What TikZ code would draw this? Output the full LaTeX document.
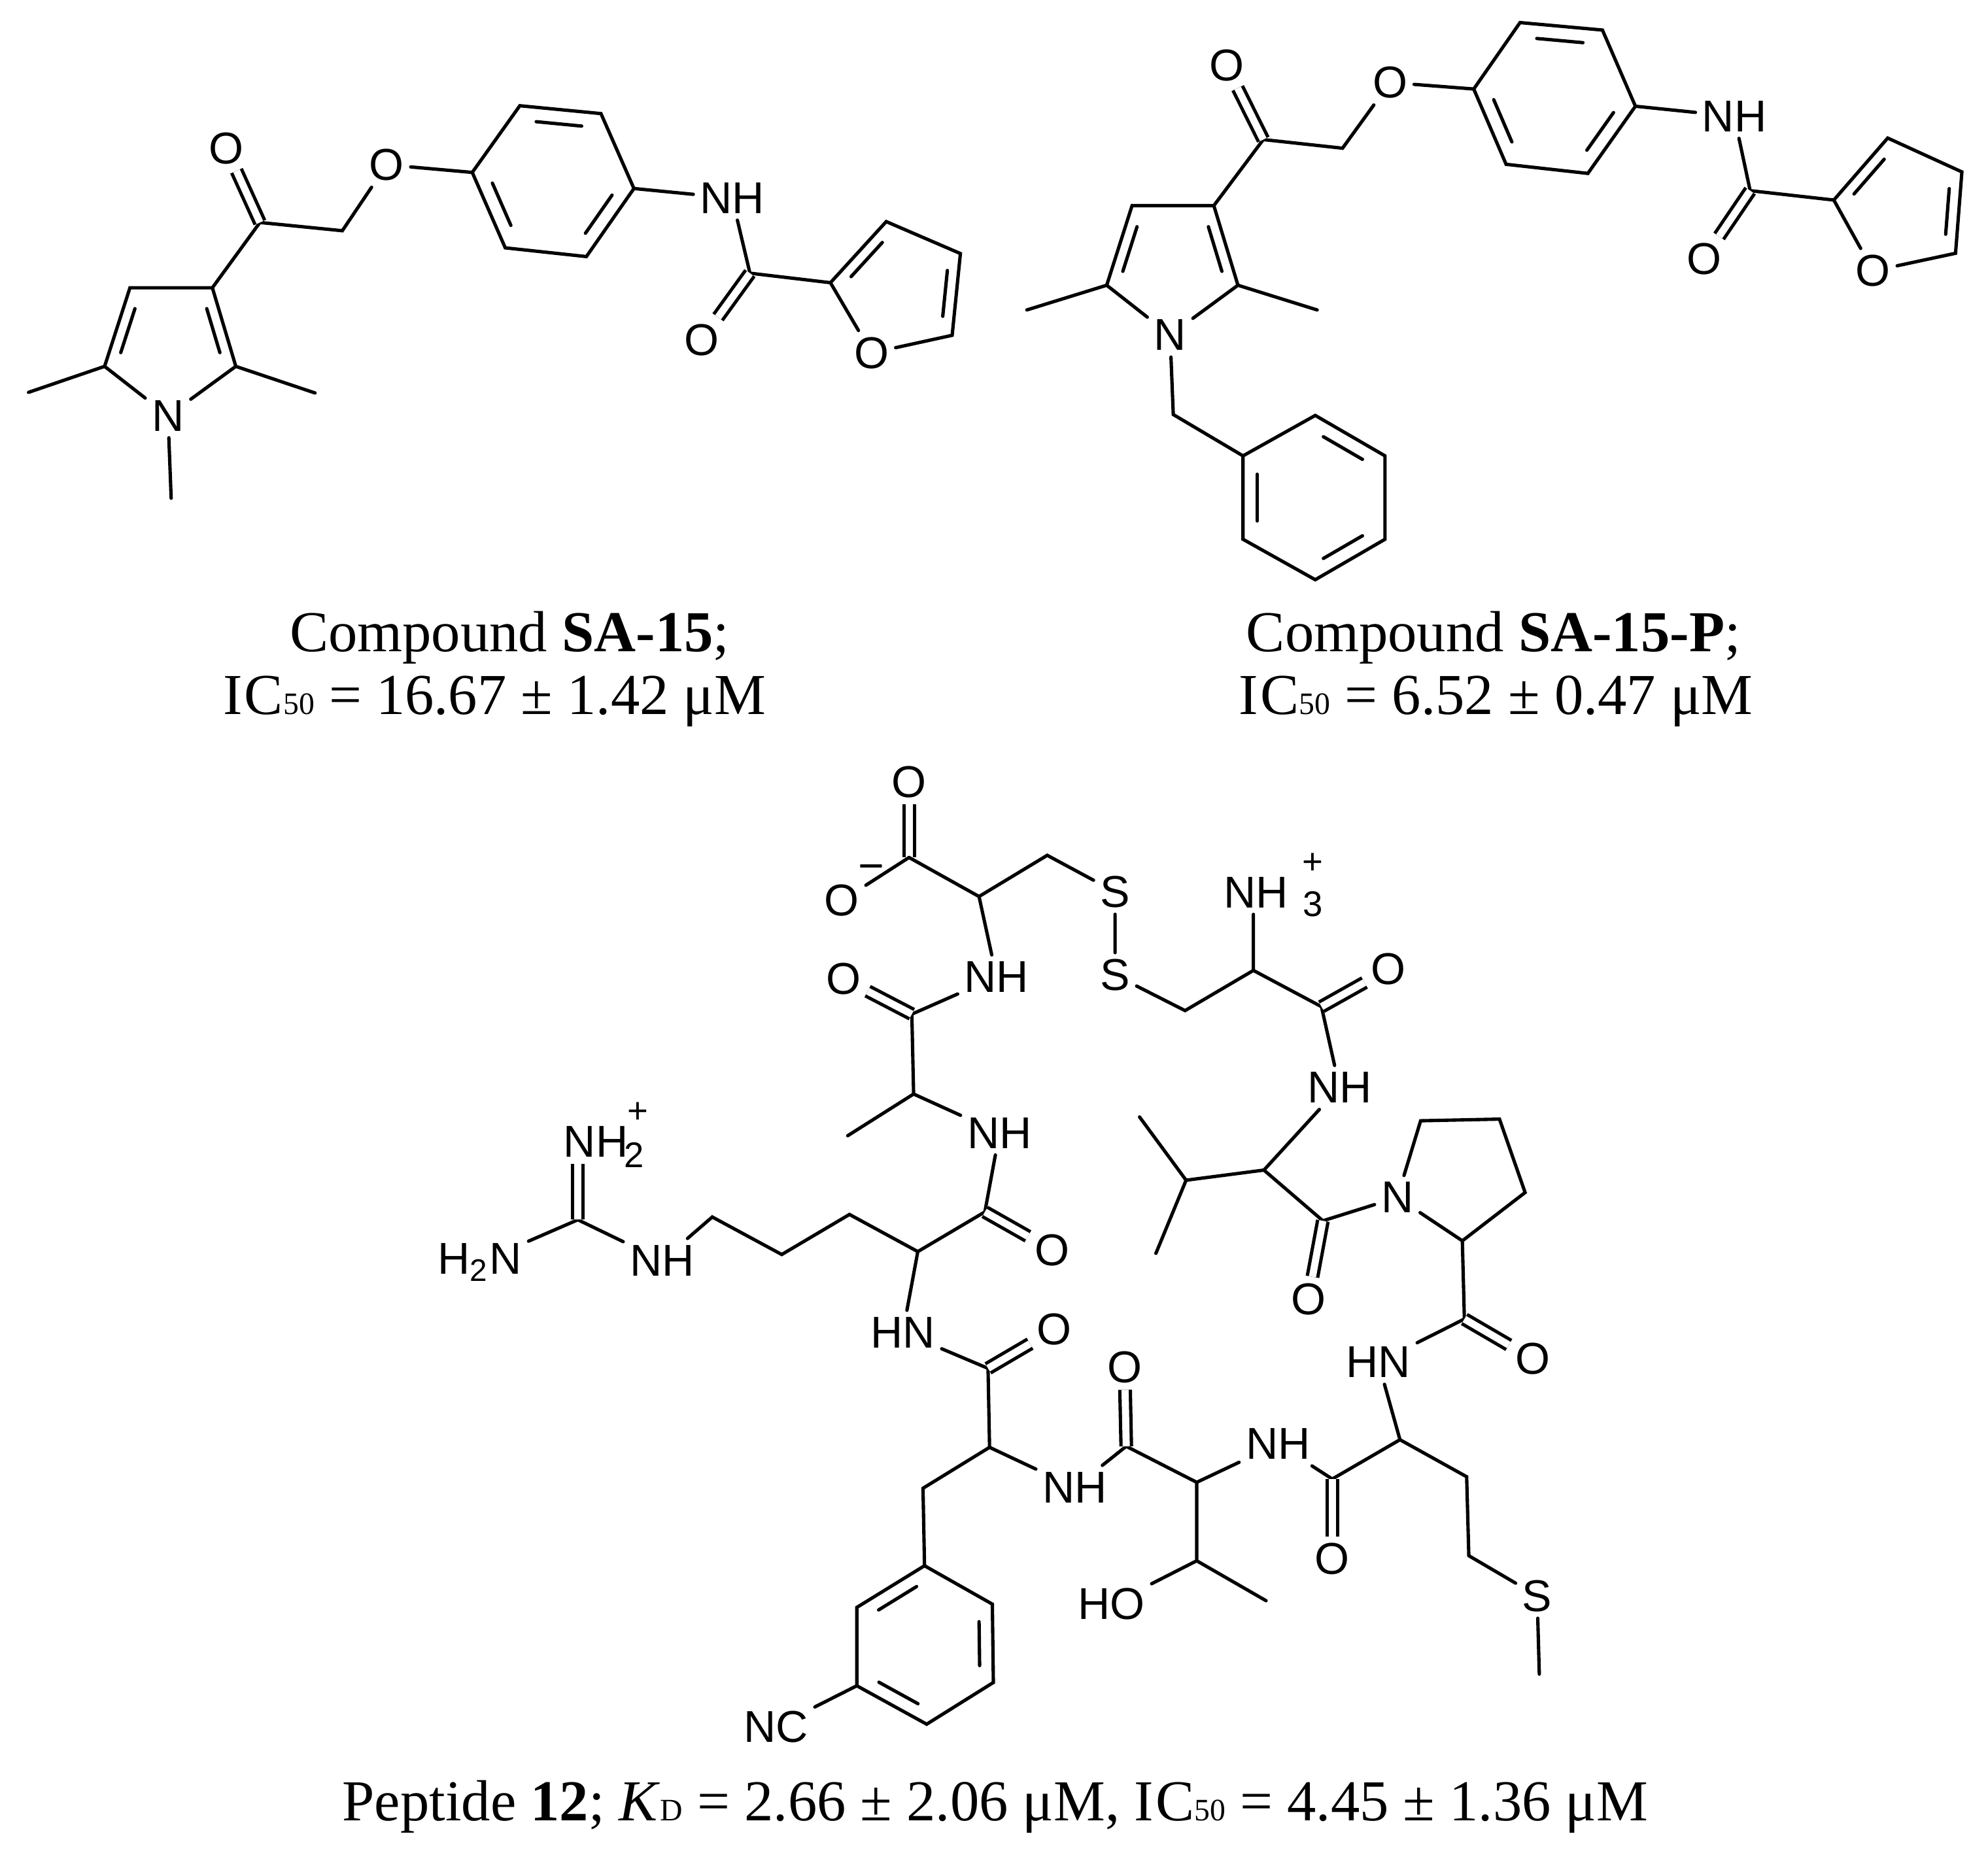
\documentclass[tikz,border=0pt]{standalone}
\usepackage{fontspec}
\setmainfont{Liberation Serif}
\newfontfamily\af{Liberation Sans}
\usetikzlibrary{calc}
\newcommand\rdb[3]{\draw[bond] ($($(#1)!.15!(#2)$)!.2!(#3)$) -- ($($(#2)!.15!(#1)$)!.2!(#3)$);}
\newcommand\ICf{I\kern0.5pt C{\scriptsize 50}}
\begin{document}
\begin{tikzpicture}[x=0.01cm,y=-0.01cm,
  bond/.style={line width=0.75pt,line cap=round},
  dbl/.style={line width=0.75pt,double,double distance=1.6pt},
  atm/.style={font=\af\fontsize{10}{12}\selectfont,inner sep=1.3pt},
  capt/.style={font=\fontsize{13}{16}\selectfont,inner sep=0pt}]
\useasboundingbox (0,0) rectangle (1568,1463);
\fill[white] (0,0) rectangle (1568,1463);
% ================= SA-15 =================
\coordinate (a4) at (102.5,227); \coordinate (a3) at (167.5,227); \coordinate (a2) at (186,289);
\node[atm] (aN) at (132.5,328) {N}; \coordinate (a5) at (82.5,289);
\coordinate (am5) at (22.5,309.5); \coordinate (am2) at (248.5,310); \coordinate (amN) at (135,393);
\coordinate (ack) at (205,175.5); \node[atm] (aOk) at (178.5,117) {O};
\coordinate (ach) at (270,182); \node[atm] (aOe) at (305,130) {O};
\coordinate (ab1) at (372.5,136); \coordinate (ab2) at (410,83.4); \coordinate (ab3) at (474,89.6);
\coordinate (ab4) at (500,148.7); \coordinate (ab5) at (462.5,202.4); \coordinate (ab6) at (398.5,195.5);
\node[atm] (aNH) at (577.5,156.3) {NH};
\coordinate (aca) at (591.5,215.5); \node[atm] (aOa) at (553.5,268) {O};
\coordinate (af2) at (655,223); \coordinate (af3) at (699,174.8); \coordinate (af4) at (757.5,200);
\coordinate (af5) at (751,264.5); \node[atm] (afO) at (687.5,278.4) {O};
\coordinate (apc) at (134.2,272); \coordinate (abc) at (436.25,142.6); \coordinate (afc) at (710,228.1);
\draw[bond] (a5)--(a4)--(a3)--(a2)--(aN)--(a5);
\draw[bond] (a5)--(am5) (a2)--(am2) (aN)--(amN) (a3)--(ack)--(ach)--(aOe)--(ab1);
\draw[dbl] (ack)--(aOk);
\draw[bond] (ab1)--(ab2)--(ab3)--(ab4)--(ab5)--(ab6)--cycle;
\draw[bond] (ab4)--(aNH)--(aca)--(af2);
\draw[dbl] (aca)--(aOa);
\draw[bond] (af2)--(af3)--(af4)--(af5)--(afO)--(af2);
\rdb{a4}{a5}{apc} \rdb{a2}{a3}{apc}
\rdb{ab1}{ab6}{abc} \rdb{ab2}{ab3}{abc} \rdb{ab4}{ab5}{abc}
\rdb{af2}{af3}{afc} \rdb{af4}{af5}{afc}
\node[capt] (c1a) at (402,503) {Compound \textbf{SA-15};};
\node[capt] (c1b) at (390,553) {\ICf{} = 16.67 ± 1.42 μM};
% ================= SA-15-P =================
\coordinate (b4) at (892.9,162.2); \coordinate (b3) at (957.4,162.2); \coordinate (b2) at (976.4,225);
\node[atm] (bN) at (922.9,264.3) {N}; \coordinate (b5) at (872.9,225);
\coordinate (bm5) at (809.9,244.5); \coordinate (bm2) at (1038.9,244.5);
\coordinate (bck) at (996.4,110.1); \node[atm] (bOk) at (967.4,51.8) {O};
\coordinate (bch) at (1058.9,116.9); \node[atm] (bOe) at (1096.4,65.1) {O};
\coordinate (bb1) at (1162.4,70.2); \coordinate (bb2) at (1198.9,17.8); \coordinate (bb3) at (1263.9,23.7);
\coordinate (bb4) at (1289.9,83.8); \coordinate (bb5) at (1252.4,136.8); \coordinate (bb6) at (1187.9,129.6);
\node[atm] (bNH) at (1367.9,91.8) {NH};
\coordinate (bca) at (1380.4,150.4); \node[atm] (bOa) at (1343.9,204.2) {O};
\coordinate (bf2) at (1446.4,157.8); \coordinate (bf3) at (1488.9,108.9); \coordinate (bf4) at (1547.4,135.6);
\coordinate (bf5) at (1542.4,199.8); \node[atm] (bfO) at (1477.4,213.7) {O};
\coordinate (bbz) at (925.4,327);
\coordinate (z1) at (980.4,359.6); \coordinate (z2) at (1037.4,327.7); \coordinate (z3) at (1092.4,359.6);
\coordinate (z4) at (1092.4,425.4); \coordinate (z5) at (1037.4,457.3); \coordinate (z6) at (980.4,425.4);
\coordinate (bpc) at (924.5,207.8); \coordinate (bbc) at (1226,77); \coordinate (bfc) at (1500.5,163.2);
\coordinate (zc) at (1036.4,392.5);
\draw[bond] (b5)--(b4)--(b3)--(b2)--(bN)--(b5);
\draw[bond] (b5)--(bm5) (b2)--(bm2) (bN)--(bbz)--(z1) (b3)--(bck)--(bch)--(bOe)--(bb1);
\draw[dbl] (bck)--(bOk);
\draw[bond] (bb1)--(bb2)--(bb3)--(bb4)--(bb5)--(bb6)--cycle;
\draw[bond] (bb4)--(bNH)--(bca)--(bf2);
\draw[dbl] (bca)--(bOa);
\draw[bond] (bf2)--(bf3)--(bf4)--(bf5)--(bfO)--(bf2);
\draw[bond] (z1)--(z2)--(z3)--(z4)--(z5)--(z6)--cycle;
\rdb{b4}{b5}{bpc} \rdb{b2}{b3}{bpc}
\rdb{bb1}{bb6}{bbc} \rdb{bb2}{bb3}{bbc} \rdb{bb4}{bb5}{bbc}
\rdb{bf2}{bf3}{bfc} \rdb{bf4}{bf5}{bfc}
\rdb{z2}{z3}{zc} \rdb{z1}{z6}{zc} \rdb{z4}{z5}{zc}
\node[capt] (c2a) at (1178,503) {Compound \textbf{SA-15-P};};
\node[capt] (c2b) at (1180,553) {\ICf{} = 6.52 ± 0.47 μM};
% ================= Peptide 12 =================
\node[atm] (Oa) at (717,616.9) {O}; \coordinate (Cc) at (717,676.4);
\node[atm] (Om) at (664,710.5) {O}; \node[atm,inner sep=0pt] (mi) at (687,688.5) {\textminus};
\coordinate (Ca1) at (772.2,707.2); \coordinate (Cb1) at (826,674.7);
\node[atm] (S1) at (879.5,703.5) {S}; \node[atm] (S2) at (879.5,769.2) {S};
\coordinate (Cb2) at (934.7,797.2); \coordinate (Ca2) at (988.6,765.5);
\node[atm] (NH3) at (990.5,703.9) {NH}; 
\node[atm,inner sep=0pt,font=\af\fontsize{8}{9}\selectfont] (n3) at (1035.5,713) {3};
\node[atm,inner sep=0pt,font=\af\fontsize{8}{9}\selectfont] (p3) at (1035.3,681) {+};
\coordinate (Cam2) at (1042.3,794.1); \node[atm] (Oam2) at (1095.2,764.4) {O};
\node[atm] (NHv) at (1056.5,857.8) {NH};
\coordinate (CaV) at (996.9,923); \coordinate (CbV) at (935.5,931);
\coordinate (Me1V) at (898.8,881.1); \coordinate (Me2V) at (911.7,988.7);
\coordinate (CamV) at (1043.4,963); \node[atm] (OamV) at (1031.9,1024.9) {O};
\node[atm] (Np) at (1102.1,944.6) {N};
\coordinate (P5) at (1120.5,884.1); \coordinate (P4) at (1182.7,882.8); \coordinate (P3) at (1202.9,940.7);
\coordinate (CaP) at (1153.4,978.8);
\coordinate (CamP) at (1155,1040.5); \node[atm] (OamP) at (1209,1072) {O};
\node[atm] (HNm) at (1087.1,1074.6) {HN};
\coordinate (CaM) at (1104.2,1135.7); \coordinate (CbM) at (1156.8,1164.9); \coordinate (CgM) at (1158.5,1227.2);
\node[atm] (SM) at (1212.4,1258.8) {S}; \coordinate (MeM) at (1214.1,1320.6);
\coordinate (CamM) at (1050.8,1166.7); \node[atm] (OamM) at (1050.8,1229.8) {O};
\node[atm] (NHt) at (1008,1139) {NH};
\coordinate (CaT) at (943.9,1169.3); \coordinate (CbT) at (943.9,1231.2);
\node[atm] (HO) at (876.7,1265.4) {HO}; \coordinate (MeT) at (998.6,1262.7);
\coordinate (CamT) at (888.3,1140.9); \node[atm] (OamT) at (887,1078.6) {O};
\node[atm] (NHf) at (847.7,1173.3) {NH};
\coordinate (CaF) at (780.5,1141.7); \coordinate (CbF) at (728,1174);
\coordinate (R1) at (729.2,1235.1); \coordinate (R2) at (782.7,1265.4); \coordinate (R3) at (783.5,1327.2);
\coordinate (R4) at (730.9,1360.1); \coordinate (R5) at (675.8,1329.8); \coordinate (R6) at (675.8,1268);
\coordinate (Rc) at (729.8,1297.6);
\node[atm] (NC) at (612,1362) {NC};
\coordinate (CamF) at (779.3,1079.4); \node[atm] (OamF) at (831.4,1048.8) {O};
\node[atm] (HNr) at (712.1,1051) {HN};
\coordinate (CaR) at (723.9,987.3); \coordinate (CamR) at (776.8,956); \node[atm] (OamR) at (829.7,986) {O};
\node[atm] (NHa) at (788.3,893.7) {NH};
\coordinate (CaA) at (720.6,863); \coordinate (MeA) at (668.6,895.9);
\coordinate (CamA) at (719.2,800); \node[atm] (OamA) at (665.4,772) {O};
\node[atm] (NHc) at (786,770.6) {NH};
\coordinate (s1) at (670,958); \coordinate (s2) at (616.6,989.6); \coordinate (s3) at (561.8,960);
\node[atm] (NHg) at (522.2,994.3) {NH};
\coordinate (Cg) at (455.8,962.2);
\node[atm] (NH2) at (470,900.7) {NH};
\node[atm,inner sep=0pt,font=\af\fontsize{8}{9}\selectfont] (n2) at (500,911) {2};
\node[atm,inner sep=0pt,font=\af\fontsize{8}{9}\selectfont] (p2) at (503,878) {+};
\node[atm] (H2N) at (378.5,995.7) {H\textsubscript{2}N};
% bonds
\draw[dbl] (Cc)--(Oa);
\draw[bond] (Cc)--(Om) (Cc)--(Ca1)--(Cb1)--(S1)--(S2)--(Cb2)--(Ca2)--(NH3.south-|Ca2);
\draw[bond] (Ca2)--(Cam2)--(NHv)--(CaV)--(CbV)--(Me1V) (CbV)--(Me2V);
\draw[dbl] (Cam2)--(Oam2);
\draw[bond] (CaV)--(CamV)--(Np)--(P5)--(P4)--(P3)--(CaP)--(Np) (CaP)--(CamP)--(HNm)--(CaM);
\draw[dbl] (CamV)--(OamV);
\draw[dbl] (CamP)--(OamP);
\draw[bond] (CaM)--(CbM)--(CgM)--(SM)--(MeM) (CaM)--(CamM)--(NHt)--(CaT)--(CbT)--(HO) (CbT)--(MeT);
\draw[dbl] (CamM)--(OamM);
\draw[bond] (CaT)--(CamT)--(NHf)--(CaF)--(CbF)--(R1);
\draw[dbl] (CamT)--(OamT);
\draw[bond] (R1)--(R2)--(R3)--(R4)--(R5)--(R6)--cycle (R5)--(NC);
\rdb{R1}{R6}{Rc} \rdb{R2}{R3}{Rc} \rdb{R4}{R5}{Rc}
\draw[bond] (CaF)--(CamF)--(HNr)--(CaR)--(CamR)--(NHa)--(CaA)--(MeA) (CaA)--(CamA)--(NHc)--(Ca1);
\draw[dbl] (CamF)--(OamF);
\draw[dbl] (CamR)--(OamR);
\draw[dbl] (CamA)--(OamA);
\draw[bond] (CaR)--(s1)--(s2)--(s3)--(NHg)--(Cg)--(H2N);
\draw[dbl] (Cg)--(Cg|-NH2.south);
\node[capt] (c3) at (785,1425) {Peptide \textbf{12}; \textit{K}{\scriptsize D} = 2.66 ± 2.06 μM, \ICf{} = 4.45 ± 1.36 μM};
\end{tikzpicture}
\end{document}
